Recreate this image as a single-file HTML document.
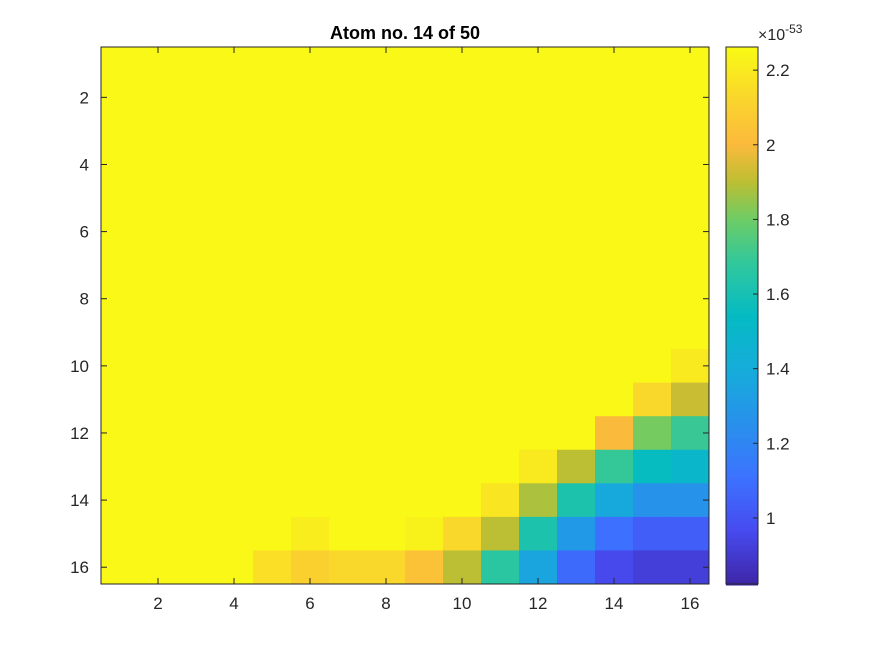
<!DOCTYPE html>
<html><head><meta charset="utf-8"><style>
html,body{margin:0;padding:0;background:#fff;}
svg{display:block;font-family:"Liberation Sans",sans-serif;}
</style></head><body>
<svg id="chart" width="875" height="656">
<rect width="875" height="656" fill="#fff"/>
</svg>
<script>
const rowsN = 16;
const colsN = 16;
const baseValue = 2.25;
// sparse cell values (row, col, value x1e-53); all others = baseValue
const cellRows = [10,11,11,12,12,12,13,13,13,13,13,14,14,14,14,14,14,15,15,15,15,15,15,15,15,15,16,16,16,16,16,16,16,16,16,16,16,16];
const cellCols = [16,15,16,14,15,16,12,13,14,15,16,11,12,13,14,15,16,6,9,10,11,12,13,14,15,16,5,6,7,8,9,10,11,12,13,14,15,16];
const cellVals = [2.2,2.13,1.92,2.0,1.81,1.7,2.2,1.9,1.69,1.55,1.5,2.18,1.88,1.62,1.38,1.26,1.26,2.21,2.23,2.13,1.9,1.62,1.3,1.1,1.04,1.04,2.16,2.1,2.13,2.13,2.04,1.9,1.66,1.36,1.08,0.96,0.92,0.92];
const xTicks = [2,4,6,8,10,12,14,16];
const yTicks = [2,4,6,8,10,12,14,16];
const cbTicks = [1,1.2,1.4,1.6,1.8,2,2.2];
const cbTickLabels = ["1","1.2","1.4","1.6","1.8","2","2.2"];
const cMin = 0.823, cMax = 2.262;

const NS = "http://www.w3.org/2000/svg";
const svg = document.getElementById('chart');
const L=101, R=709, T=47, B=584;
const cw=(R-L)/colsN, ch=(B-T)/rowsN;
const xPos = c => L+(c-0.5)*cw;
const yPos = r => T+(r-0.5)*ch;
const stops=[[0,62,38,168],[0.1,71,75,240],[0.2,60,115,255],[0.3,40,145,235],[0.4,22,172,218],[0.5,5,187,195],[0.6,50,200,155],[0.68,110,204,100],[0.75,190,190,50],[0.82,252,186,60],[0.9,250,212,45],[1,249,251,20]];
function color(v){
  let t=Math.max(0,Math.min(1,(v-cMin)/(cMax-cMin)));
  for(let i=1;i<stops.length;i++){
    if(t<=stops[i][0]){
      const a=stops[i-1],b=stops[i],f=(t-a[0])/(b[0]-a[0]);
      return `rgb(${Math.round(a[1]+f*(b[1]-a[1]))},${Math.round(a[2]+f*(b[2]-a[2]))},${Math.round(a[3]+f*(b[3]-a[3]))})`;
    }
  }
  return 'rgb(249,251,20)';
}
function mk(tag,attrs){const e=document.createElementNS(NS,tag);for(const k in attrs)e.setAttribute(k,attrs[k]);svg.appendChild(e);return e;}
const grid=[];
for(let r=1;r<=rowsN;r++){grid[r]=[];for(let c=1;c<=colsN;c++)grid[r][c]=baseValue;}
cellRows.forEach((r,i)=>{grid[r][cellCols[i]]=cellVals[i];});
for(let r=1;r<=rowsN;r++)for(let c=1;c<=colsN;c++){
  const e=mk('rect',{x:xPos(c)-cw/2,y:yPos(r)-ch/2,width:cw+0.5,height:ch+0.5,fill:color(grid[r][c])});
  
  
}
const frame=mk('rect',{x:L,y:T,width:R-L,height:B-T,fill:'none',stroke:'#262626','stroke-width':1});


xTicks.forEach(v=>{
  const x=xPos(v);
  mk('line',{x1:x,y1:B,x2:x,y2:B-6,stroke:'#262626'});
  mk('line',{x1:x,y1:T,x2:x,y2:T+6,stroke:'#262626'});
  const t=mk('text',{x:x,y:B+25,'text-anchor':'middle','font-size':17,fill:'#262626'});t.textContent=v;
  
  
});
yTicks.forEach(v=>{
  const y=yPos(v);
  mk('line',{x1:L,y1:y,x2:L+6,y2:y,stroke:'#262626'});
  mk('line',{x1:R,y1:y,x2:R-6,y2:y,stroke:'#262626'});
  const t=mk('text',{x:L-12,y:y+6,'text-anchor':'end','font-size':17,fill:'#262626'});t.textContent=v;
  
  
});
const title=mk('text',{x:(L+R)/2,y:39,'text-anchor':'middle','font-size':18,'font-weight':'bold',fill:'#000'});
title.textContent='Atom no. 14 of 50';


// colorbar
const CL=726,CR=758;
const cbY=v=>B-(v-cMin)/(cMax-cMin)*(B-T);
for(let y=T;y<B;y+=2){
  const v=cMin+(B-y-1)/(B-T)*(cMax-cMin);
  const e=mk('rect',{x:CL,y:y,width:CR-CL,height:2.5,fill:color(v)});
  
  
}
const cbf=mk('rect',{x:CL,y:T,width:CR-CL,height:B-T,fill:'none',stroke:'#262626'});


cbTicks.forEach((v,i)=>{
  const y=cbY(v);
  mk('line',{x1:CR,y1:y,x2:CR-5,y2:y,stroke:'#262626'});
  const t=mk('text',{x:CR+8,y:y+6,'font-size':17,fill:'#262626'});t.textContent=cbTickLabels[i];
  
  
});
const ex=mk('text',{x:758,y:40,'font-size':16,fill:'#262626'});
ex.innerHTML='×10<tspan dy="-7" font-size="12">-53</tspan>';


</script>
</body></html>
